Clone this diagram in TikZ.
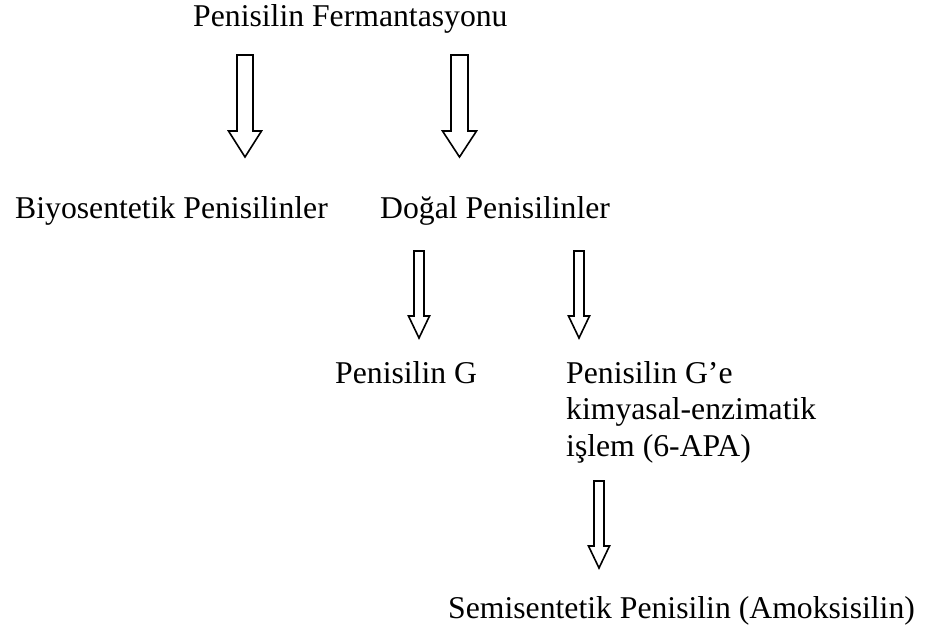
\documentclass[tikz,border=0pt]{standalone}
\usepackage{fontspec}
\setmainfont{Liberation Serif}
\usetikzlibrary{calc}
\tikzset{arrowbox/.style={line width=1.6pt, line join=miter, fill=white}}
% hollow block arrow: top, tip, half shaft, half head, head length
\newcommand{\blockarrow}[5]{%
  \draw[arrowbox] ($(#1)+(-#3,0)$) -- ($(#2)+(-#3,-#5)$) -- ($(#2)+(-#4,-#5)$) -- (#2)
    -- ($(#2)+(#4,-#5)$) -- ($(#2)+(#3,-#5)$) -- ($(#1)+(#3,0)$) -- cycle;}
\begin{document}
\begin{tikzpicture}[x=1pt, y=-1pt, every node/.style={font=\fontsize{31.7}{36.5}\selectfont, inner sep=0pt, anchor=base west}]
  \useasboundingbox (0,0) rectangle (935,635);
  \node (ferm) at (193,26) {Penisilin Fermantasyonu};
  \node (biyo) at (15,218) {Biyosentetik Penisilinler};
  \node (dogal) at (380,218) {Doğal Penisilinler};
  \node (pg) at (335,383) {Penisilin G};
  \node[align=left] (islem) at (566,456) {Penisilin G’e\\kimyasal-enzimatik\\işlem (6-APA)};
  \node (semi) at (448,618) {Semisentetik Penisilin (Amoksisilin)};
  % arrow ends
  \coordinate (a1s) at (245,55);  \coordinate (a1e) at (245,157);
  \coordinate (a2s) at (459.5,55); \coordinate (a2e) at (459.5,157);
  \coordinate (a3s) at (419,251); \coordinate (a3e) at (419,338);
  \coordinate (a4s) at (579,251); \coordinate (a4e) at (579,338);
  \coordinate (a5s) at (599,481); \coordinate (a5e) at (599,568);
  \blockarrow{a1s}{a1e}{8}{16.5}{26}
  \blockarrow{a2s}{a2e}{8.5}{17}{26}
  \blockarrow{a3s}{a3e}{5}{10.5}{22}
  \blockarrow{a4s}{a4e}{5}{10.5}{22}
  \blockarrow{a5s}{a5e}{5}{10.5}{22}
\end{tikzpicture}
\end{document}
